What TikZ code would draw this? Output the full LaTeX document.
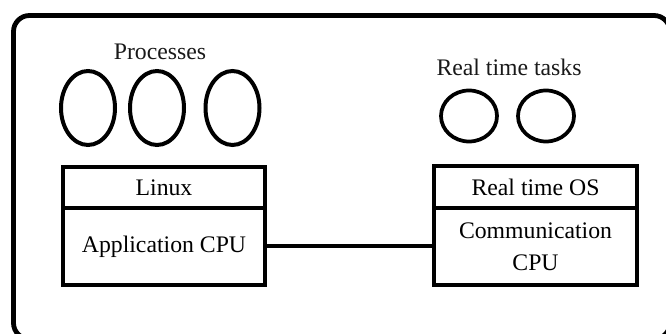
\documentclass[tikz,border=0pt]{standalone}
\usepackage{fontspec}
\setmainfont{Liberation Serif}
\usetikzlibrary{shapes.geometric}
\begin{document}
\begin{tikzpicture}[x=0.75pt,y=-0.75pt,
  lbl/.style={inner sep=0pt,font=\fontsize{17.8}{21}\selectfont,text=black!90},
  layer/.style={draw=black,line width=3pt,minimum width=202*0.75pt,inner sep=0pt,align=center,font=\fontsize{17.8}{24}\selectfont},
  proc/.style={draw=black,ellipse,line width=3pt,inner sep=0pt,minimum width=54*0.75pt,minimum height=74*0.75pt},
  task/.style={draw=black,ellipse,line width=2.8pt,inner sep=0pt,minimum width=56*0.75pt,minimum height=51*0.75pt},
  frame/.style={draw=black,line width=3.6pt,rounded corners=16*0.75pt,inner sep=0pt}]
\useasboundingbox (0,0) rectangle (666,334);
\clip (0,0) rectangle (666,334);
\draw[frame] (13.5,15.5) rectangle (670,339);
% left side
\node[lbl] (proclbl) at (160,52) {Processes};
\node[proc] (p1) at (88,108) {};
\node[proc] (p2) at (157,108) {};
\node[proc] (p3) at (232.5,108) {};
\node[layer,minimum height=41*0.75pt] (linux) at (164,187.5) {Linux};
\node[layer,minimum height=77*0.75pt] (app) at (164,246.5) {Application CPU};
% right side
\node[lbl] (tasklbl) at (509,67) {Real time tasks};
\node[task] (t1) at (469,116) {};
\node[task] (t2) at (546,116) {};
\node[layer,minimum width=203*0.75pt,minimum height=42*0.75pt] (rtos) at (535.5,187) {Real time OS};
\node[layer,minimum width=203*0.75pt,minimum height=77*0.75pt] (comm) at (535.5,246.5) {Communication\\CPU};
% connector
\draw[line width=3pt] (app.east) -- (comm.west);
\end{tikzpicture}
\end{document}
